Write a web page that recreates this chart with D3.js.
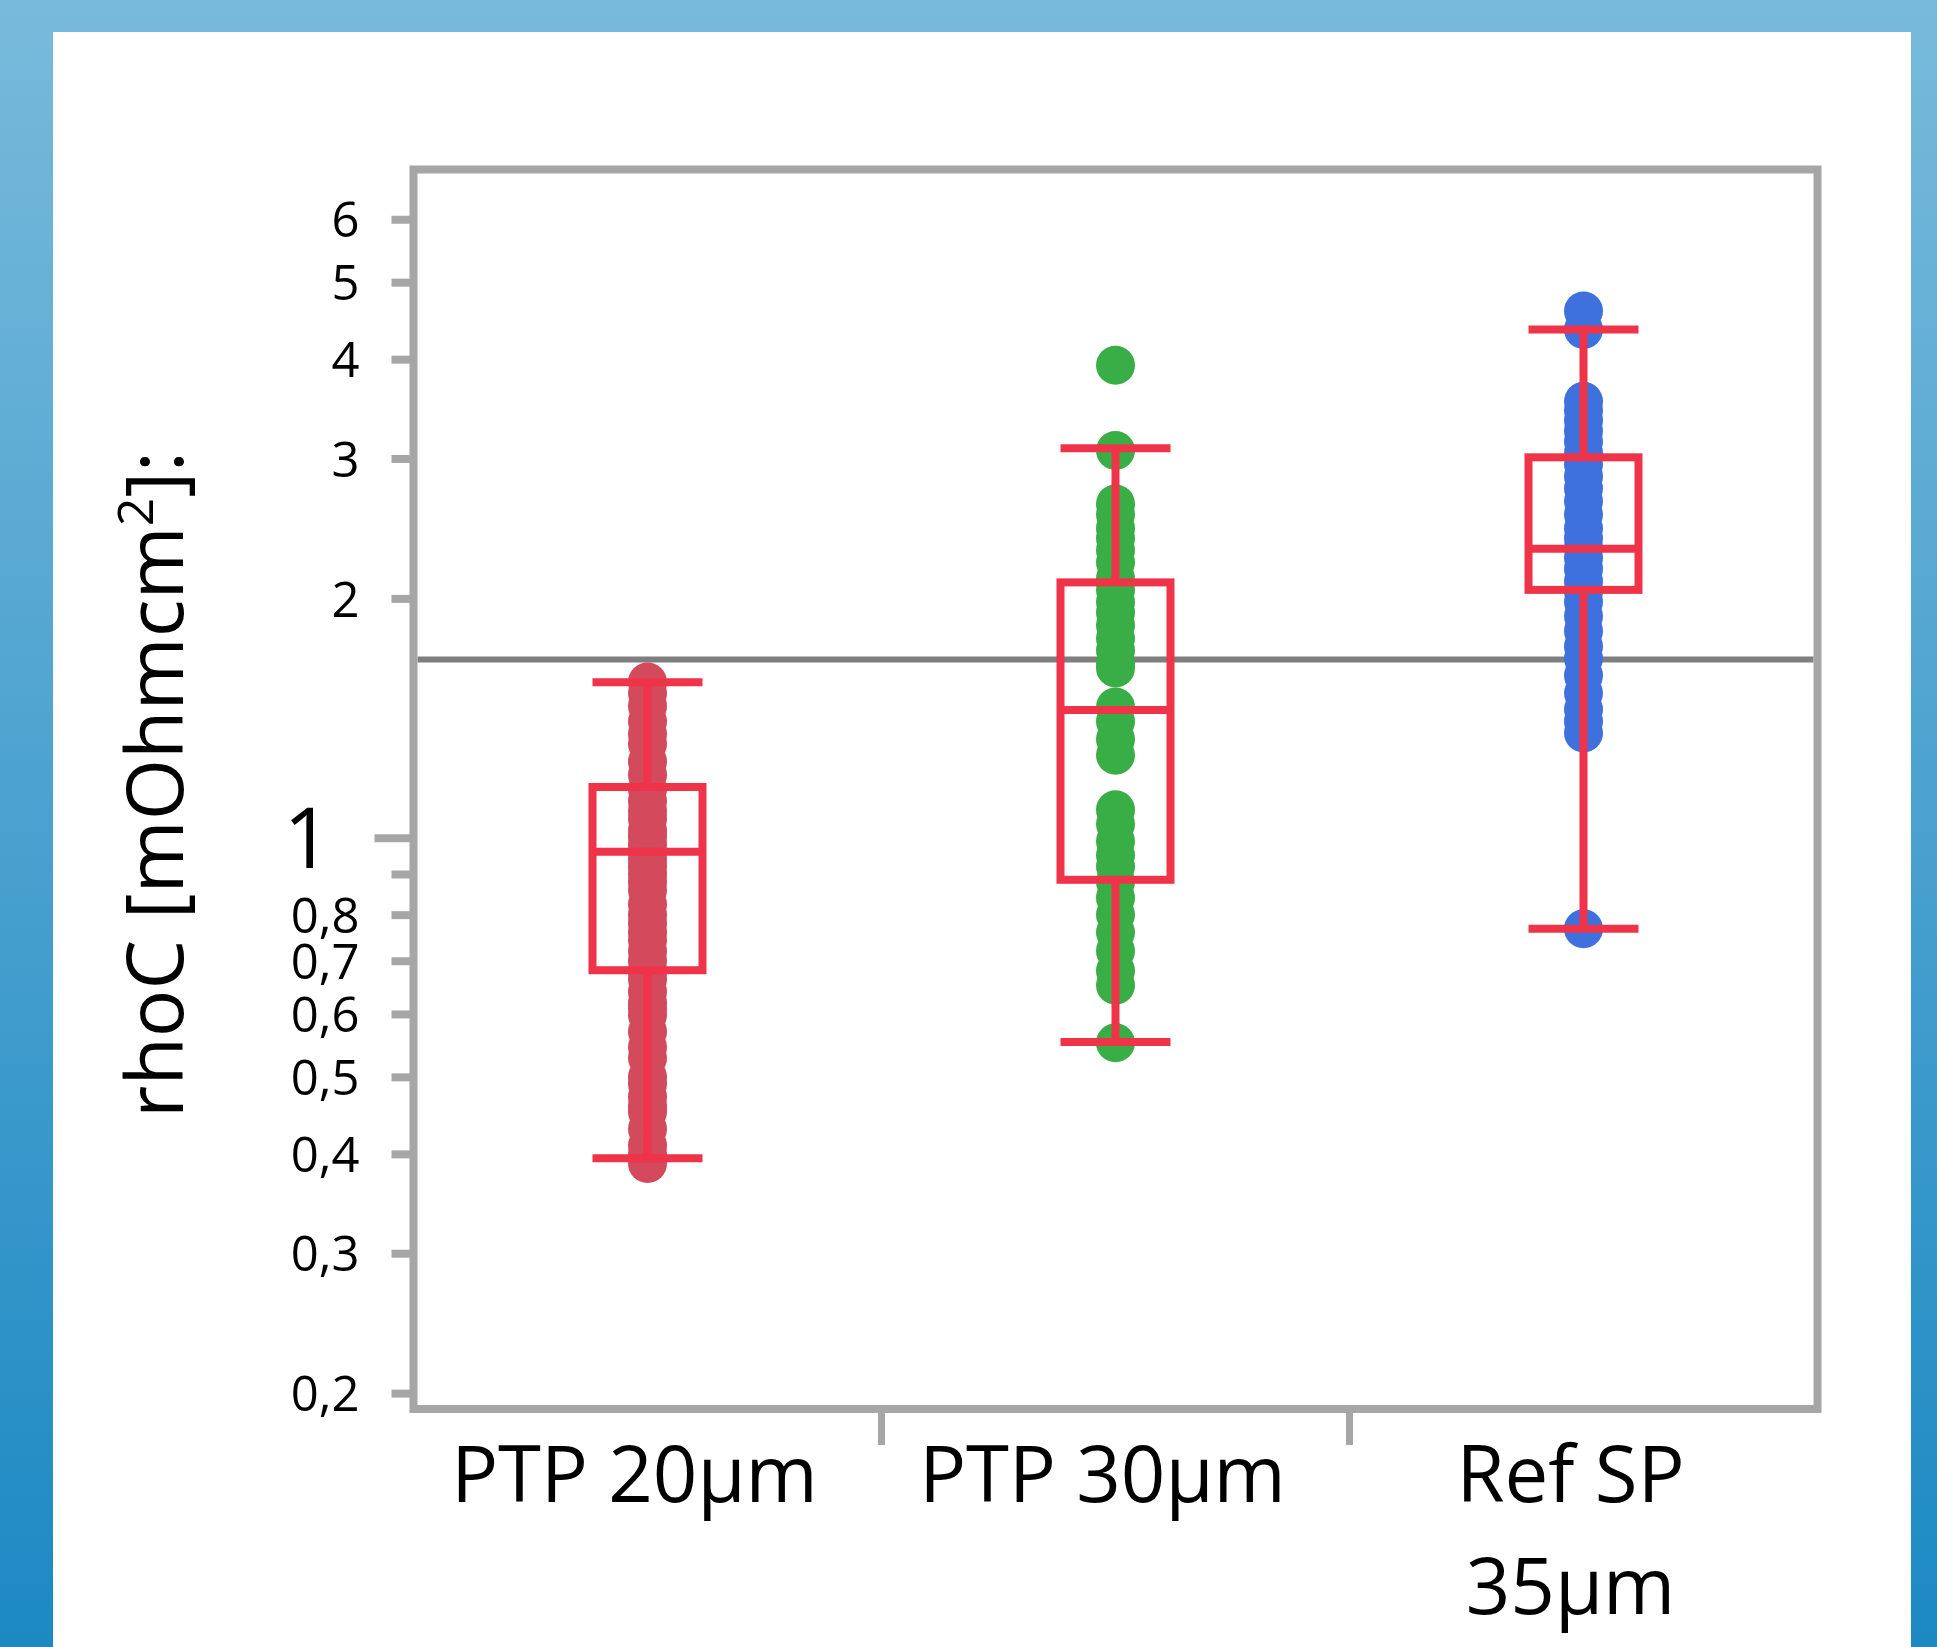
<!DOCTYPE html>
<html>
<head>
<meta charset="utf-8">
<script src="https://cdn.jsdelivr.net/npm/d3@7"></script>
<style>
  html, body { margin: 0; padding: 0; background: #fff; }
  svg { display: block; }
  text { font-family: "Open Sans", "Noto Sans", sans-serif; fill: #000; }
</style>
</head>
<body>
<svg id="chart"></svg>
<script>
// ---------- data ----------
const categories = ["PTP 20µm", "PTP 30µm", "Ref SP 35µm"];
const categoryLabelLines = [["PTP 20µm"], ["PTP 30µm"], ["Ref SP", "35µm"]];
const dotColors = ["#d24a5c", "#3aae46", "#3f71de"];

const valuesPTP20 = [1.57, 1.52, 1.464, 1.40, 1.35, 1.312, 1.247, 1.20, 1.15, 1.112, 1.08, 1.056,
  1.02, 1.003, 0.98, 0.962, 0.94, 0.92, 0.90, 0.88, 0.859, 0.824, 0.80, 0.78, 0.76, 0.743, 0.72,
  0.70, 0.68, 0.663, 0.64, 0.62, 0.61, 0.598, 0.57, 0.545, 0.528, 0.50, 0.49, 0.472, 0.46,
  0.452, 0.43, 0.41, 0.40, 0.389];
const valuesPTP30 = [3.93, 3.07, 2.63, 2.55, 2.45, 2.38, 2.30, 2.22, 2.12, 2.05, 1.98, 1.92, 1.85,
  1.78, 1.72, 1.66, 1.635, 1.46, 1.40, 1.33, 1.27, 1.084, 1.04, 0.99, 0.95, 0.92, 0.88, 0.84,
  0.80, 0.76, 0.72, 0.68, 0.652, 0.552];
const valuesRefSP = [4.60, 4.36, 3.54, 3.45, 3.35, 3.25, 3.15, 3.05, 2.95, 2.85, 2.75, 2.65, 2.55,
  2.45, 2.38, 2.32, 2.25, 2.18, 2.10, 2.04, 1.98, 1.90, 1.82, 1.74, 1.68, 1.60, 1.52, 1.45,
  1.40, 1.354, 0.768];
const seriesValues = [valuesPTP20, valuesPTP30, valuesRefSP];

// box-plot statistics
const whiskerLow  = [0.395, 0.553, 0.768];
const quartile1   = [0.681, 0.885, 2.05];
const medians     = [0.960, 1.447, 2.31];
const quartile3   = [1.158, 2.095, 3.01];
const whiskerHigh = [1.569, 3.09, 4.36];

const referenceValue = 1.675;
const yDomain = [0.191, 6.93];
const yTickValues = [0.2, 0.3, 0.4, 0.5, 0.6, 0.7, 0.8, 0.9, 1, 2, 3, 4, 5, 6];
const yUnlabeledTicks = [0.9];
const yTitle = "rhoC [mOhmcm";

// ---------- layout ----------
const W = 1937, H = 1647;
const frame = { left: 413.5, right: 1817.5, top: 169.5, bottom: 1409 };
const boxColor = "#ef3349";
const frameColor = "#a6a6a6";

const svg = d3.select("#chart").attr("width", W).attr("height", H);

const defs = svg.append("defs");
const grad = defs.append("linearGradient").attr("id", "bg").attr("x1", 0).attr("y1", 0).attr("x2", 0).attr("y2", 1);
grad.append("stop").attr("offset", "0%").attr("stop-color", "#78badb");
grad.append("stop").attr("offset", "100%").attr("stop-color", "#1c89c3");

svg.append("rect").attr("x", 0).attr("y", 0).attr("width", W).attr("height", H).attr("fill", "url(#bg)");
svg.append("rect").attr("x", 53).attr("y", 32).attr("width", 1858).attr("height", H - 32).attr("fill", "#fff");

const x = d3.scaleBand().domain(categories).range([frame.left, frame.right]).padding(0);
const y = d3.scaleLog().domain(yDomain).range([frame.bottom, frame.top]);
const cx = c => x(c) + x.bandwidth() / 2;

// reference line
svg.append("line")
  .attr("x1", frame.left + 4).attr("x2", frame.right - 4)
  .attr("y1", y(referenceValue)).attr("y2", y(referenceValue))
  .attr("stroke", "#7f7f7f").attr("stroke-width", 6);

// dots
categories.forEach((c, i) => {
  svg.append("g").selectAll("circle").data(seriesValues[i]).join("circle")
    .attr("cx", cx(c)).attr("cy", d => y(d)).attr("r", 19.5)
    .attr("fill", dotColors[i]);
});

// box plots
const boxW = 110;
const bp = svg.append("g").attr("stroke", boxColor).attr("stroke-width", 8).attr("fill", "none");
categories.forEach((c, i) => {
  const m = cx(c);
  bp.append("line").attr("x1", m).attr("x2", m).attr("y1", y(whiskerHigh[i])).attr("y2", y(quartile3[i]));
  bp.append("line").attr("x1", m).attr("x2", m).attr("y1", y(quartile1[i])).attr("y2", y(whiskerLow[i]));
  bp.append("line").attr("x1", m - boxW / 2).attr("x2", m + boxW / 2).attr("y1", y(whiskerHigh[i])).attr("y2", y(whiskerHigh[i]));
  bp.append("line").attr("x1", m - boxW / 2).attr("x2", m + boxW / 2).attr("y1", y(whiskerLow[i])).attr("y2", y(whiskerLow[i]));
  bp.append("rect").attr("x", m - boxW / 2).attr("width", boxW)
    .attr("y", y(quartile3[i])).attr("height", y(quartile1[i]) - y(quartile3[i]));
  bp.append("line").attr("x1", m - boxW / 2).attr("x2", m + boxW / 2).attr("y1", y(medians[i])).attr("y2", y(medians[i]));
});

// frame
svg.append("rect")
  .attr("x", frame.left).attr("y", frame.top)
  .attr("width", frame.right - frame.left).attr("height", frame.bottom - frame.top)
  .attr("fill", "none").attr("stroke", frameColor).attr("stroke-width", 8);

// y axis
const yAxis = d3.axisLeft(y).tickValues(yTickValues).tickSize(22).tickPadding(31)
  .tickFormat(d => yUnlabeledTicks.includes(d) ? "" : String(d).replace(".", ","));
const gy = svg.append("g").attr("transform", `translate(${frame.left},0)`).call(yAxis);
gy.select(".domain").remove();
gy.selectAll(".tick line").attr("stroke", frameColor).attr("stroke-width", 8)
  .attr("x2", d => d === 1 ? -39 : -22);
gy.selectAll(".tick text")
  .attr("fill", "#000")
  .style("font-family", '"Open Sans", sans-serif')
  .style("font-size", d => d === 1 ? "84px" : "49px")
  .attr("x", d => d === 1 ? -82 : -54)
  .attr("dy", "0.36em");

// x axis separators
const sepPositions = categories.slice(1).map(c => x(c));
svg.append("g").selectAll("line").data(sepPositions).join("line")
  .attr("x1", d => d).attr("x2", d => d)
  .attr("y1", frame.bottom).attr("y2", frame.bottom + 36)
  .attr("stroke", frameColor).attr("stroke-width", 7);

// x labels
categories.forEach((c, i) => {
  const t = svg.append("text")
    .attr("text-anchor", "middle")
    .style("font-size", "78px");
  categoryLabelLines[i].forEach((line, j) => {
    t.append("tspan").attr("x", cx(c) - 13).attr("y", 1502 + j * 112).text(line);
  });
});

// y title
const title = svg.append("text")
  .attr("transform", "translate(183,784.5) rotate(-90)")
  .attr("text-anchor", "middle")
  .style("font-size", "79px");
title.append("tspan").text(yTitle);
title.append("tspan").attr("dy", -30).style("font-size", "50px").text("2");
title.append("tspan").attr("dy", 30).text("]:");
</script>
</body>
</html>
